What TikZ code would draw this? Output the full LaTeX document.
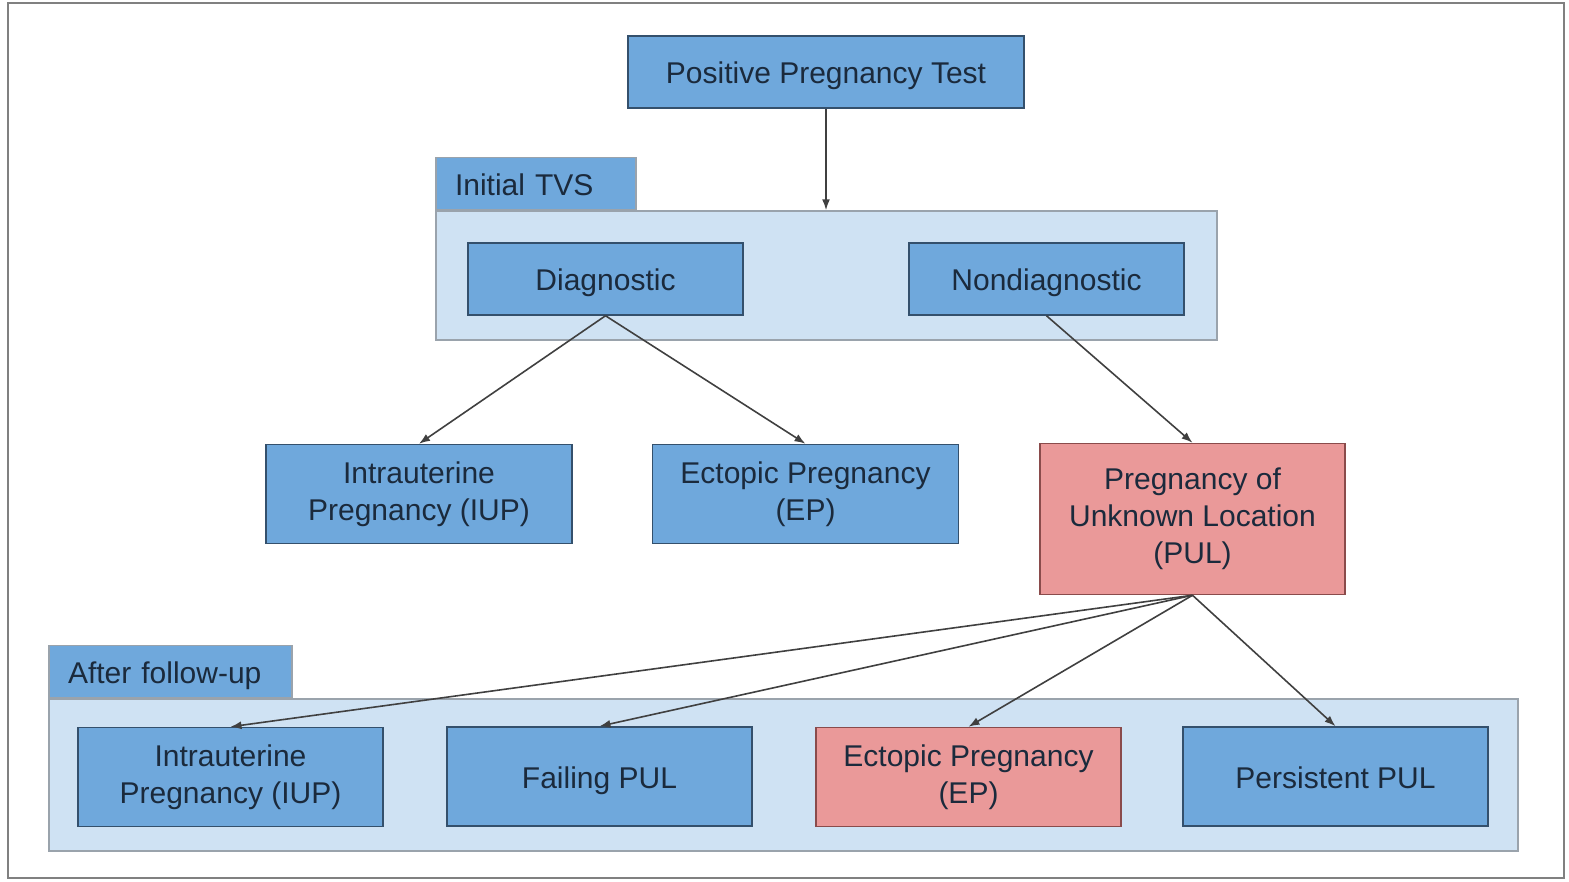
\documentclass[tikz,border=0pt]{standalone}
\usepackage{fontspec}
\setmainfont{Liberation Sans}
\usepackage{xcolor}
\usepackage{tikz}
\usetikzlibrary{positioning,%
  arrows.meta
}
\definecolor{boxblue}{HTML}{6FA8DC}
\definecolor{panelblue}{HTML}{CFE2F3}
\definecolor{boxred}{HTML}{EA9999}
\definecolor{blueline}{HTML}{34506C}
\definecolor{redline}{HTML}{8A4B4B}
\definecolor{panelline}{HTML}{9AA3AC}
\definecolor{txtdark}{HTML}{1B2A3C}

\begin{document}
\begin{tikzpicture}
            [
                x=1pt,y=-1pt,
                font=\fontsize{30}{37}\selectfont,
                every node/.style={text=txtdark,align=center,inner sep=0pt},
                oneline/.style={text height=26pt,text depth=3pt},
                bluebox/.style={draw=blueline,fill=boxblue,line width=1.5pt},
                redbox/.style={draw=redline,fill=boxred,line width=1.5pt},
                panel/.style={draw=panelline,fill=panelblue,line width=1.5pt},
                tabbox/.style={draw=panelline,fill=boxblue,line width=1.5pt,oneline,
                    anchor=south west,align=left,inner xsep=19pt,minimum height=52pt},
                link/.style={draw=black!75,line width=1.6pt,-{Latex[length=11pt,width=8pt]}}
            ]

            \useasboundingbox (0,0) rectangle (1569,881);
            \draw[gray,line width=2pt] (8,3) rectangle (1564,878);

            \node[bluebox,oneline,minimum width=396pt,minimum height=72pt] (ppt) at (826,72) {Positive Pregnancy Test};

            \node[panel,minimum width=781pt,minimum height=129pt] (tvs) at (826.5,275.5) {};
            \node[tabbox,text width=162pt] (tvstab) at (tvs.north west) {Initial TVS};
            \node[bluebox,oneline,minimum width=275pt,minimum height=72pt] (diag) at (605.5,279) {Diagnostic};
            \node[bluebox,oneline,minimum width=275pt,minimum height=72pt] (nondiag) at (1046.5,279) {Nondiagnostic};

            \node[bluebox,minimum width=306pt,minimum height=99pt] (iup) at (419,494) {Intrauterine\\Pregnancy (IUP)};
            \node[bluebox,minimum width=306pt,minimum height=99pt] (ep) at (805.5,494) {Ectopic Pregnancy\\(EP)};
            \node[redbox,minimum width=305pt,minimum height=151pt] (pul) at (1192.5,519) {Pregnancy of\\Unknown Location\\(PUL)};

            \node[panel,minimum width=1469pt,minimum height=152pt] (follow) at (783.5,775) {};
            \node[tabbox,text width=205pt] (followtab) at (follow.north west) {After follow-up};
            \node[bluebox,minimum width=305pt,minimum height=99pt] (iupb) at (230.5,777) {Intrauterine\\Pregnancy (IUP)};
            \node[bluebox,oneline,minimum width=305pt,minimum height=99pt] (failb) at (599.5,776.5) {Failing PUL};
            \node[redbox,minimum width=305pt,minimum height=99pt] (epb) at (968.5,777) {Ectopic Pregnancy\\(EP)};
            \node[bluebox,oneline,minimum width=305pt,minimum height=99pt] (persb) at (1335.5,776.5) {Persistent PUL};

            \draw[link] (ppt) -- (ppt |- tvs.north);
            \draw[link] (diag.south) -- (iup.north);
            \draw[link] (diag.south) -- (ep.north);
            \draw[link] (nondiag.south) -- (pul.north);
            \foreach \n in {iupb,failb,epb,persb}
                \draw[link] (pul.south) -- (\n.north);
        \end{tikzpicture}
\end{document}
